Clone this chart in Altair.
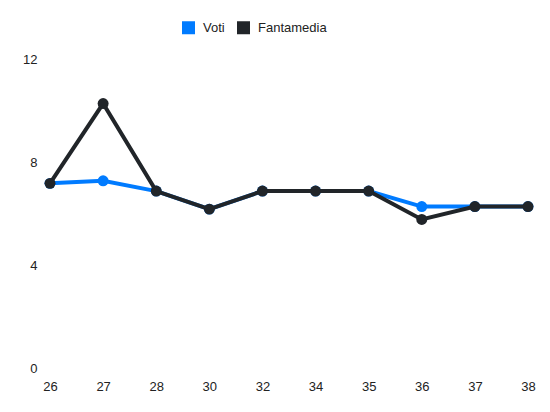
import altair as alt
import pandas as pd

giornate = ["26", "27", "28", "30", "32", "34", "35", "36", "37", "38"]
voti = [7.17, 7.27, 6.87, 6.17, 6.87, 6.87, 6.87, 6.27, 6.27, 6.27]
fantamedia = [7.17, 10.27, 6.87, 6.17, 6.87, 6.87, 6.87, 5.77, 6.27, 6.27]
serie = ["Voti", "Fantamedia"]
colori = ["#007bff", "#212529"]

rows = []
for g, v in zip(giornate, voti):
    rows.append({"g": g, "val": v, "serie": "Voti"})
for g, v in zip(giornate, fantamedia):
    rows.append({"g": g, "val": v, "serie": "Fantamedia"})
df = pd.DataFrame(rows)

FONT = "Liberation Sans"

x = alt.X("g:O", sort=giornate, scale=alt.Scale(type="point", padding=0),
          axis=alt.Axis(title=None, labelAngle=0, domain=False, ticks=False, grid=False,
                        labelPadding=12, labelFontSize=13, labelColor="#222",
                        labelFont=FONT))
y = alt.Y("val:Q", scale=alt.Scale(domain=[0, 12], nice=False),
          axis=alt.Axis(title=None, values=[0, 4, 8, 12], domain=False, ticks=False,
                        grid=False, labelPadding=13, labelFontSize=13, labelColor="#222",
                        labelFont=FONT))
color = alt.Color("serie:N", scale=alt.Scale(domain=serie, range=colori),
                  legend=alt.Legend(title=None, orient="none", direction="horizontal",
                                    legendX=132, legendY=-38, symbolType="square",
                                    symbolSize=169, symbolStrokeWidth=0,
                                    symbolOpacity=1, labelFontSize=13, labelFont=FONT,
                                    labelColor="#222", labelOffset=8, columnPadding=12))

def layer(name):
    base = alt.Chart(df).transform_filter(alt.datum.serie == name)
    line = base.mark_line(strokeWidth=4).encode(x=x, y=y, color=color)
    pts = base.mark_circle(size=120, opacity=1).encode(x=x, y=y, color=color)
    return line + pts

chart = alt.layer(layer("Voti"), layer("Fantamedia")).properties(
    width=478, height=309,
    autosize=alt.AutoSizeParams(type="none"),
    padding={"left": 42, "top": 51, "right": 14, "bottom": 36},
).configure_view(stroke=None)

chart.save("out.html", embed_options={"renderer": "svg", "actions": False})
